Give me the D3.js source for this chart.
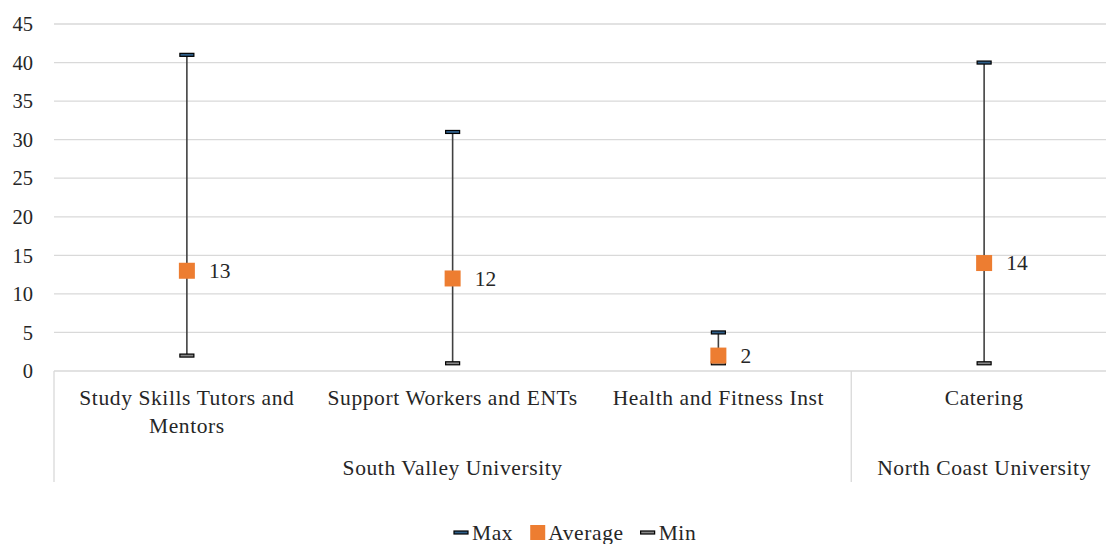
<!DOCTYPE html>
<html><head><meta charset="utf-8">
<script src="https://cdn.jsdelivr.net/npm/d3@7"></script>
<style>body{margin:0;background:#fff;}</style>
</head><body><svg id="c" width="1106" height="544"></svg>
<script>
const categories = ["Study Skills Tutors and Mentors","Support Workers and ENTs","Health and Fitness Inst","Catering"];
const groups = ["South Valley University","South Valley University","South Valley University","North Coast University"];
const maxVals = [41, 31, 5, 40];
const avgVals = [13, 12, 2, 14];
const minVals = [2, 1, 1, 1];
const yTicks = [0,5,10,15,20,25,30,35,40,45];

const FONT = "Liberation Serif";
const svg = d3.select("#c");
const x0 = 54, x1 = 1117, yTop = 24, yBot = 371;
const x = d3.scaleBand().domain(categories).range([x0, x1]);
const y = d3.scaleLinear().domain([0,45]).range([yBot, yTop]);
const fs = 21.5, fsT = 20.5, LS = "0.6px";

svg.append("g").selectAll("line").data(yTicks.filter(d=>d>0)).join("line")
  .attr("x1", x0).attr("x2", x1).attr("y1", d=>y(d)).attr("y2", d=>y(d))
  .attr("stroke","#d9d9d9").attr("stroke-width",1.3);
svg.append("line").attr("x1",x0).attr("x2",x1).attr("y1",yBot).attr("y2",yBot).attr("stroke","#d9d9d9").attr("stroke-width",1.3);

const ya = d3.axisLeft(y).tickValues(yTicks).tickSize(0).tickPadding(0);
const yg = svg.append("g").attr("transform",`translate(33,0)`).call(ya);
yg.attr("font-size", fsT).attr("font-family", null);
yg.select(".domain").remove();
yg.selectAll("text").attr("fill","#262626").attr("dy","0.33em");

const groupNames = [];
groups.forEach((g,i)=>{ if(!groupNames.length || groupNames[groupNames.length-1].name!==g) groupNames.push({name:g,start:i,end:i}); else groupNames[groupNames.length-1].end=i; });
const divX = [x0].concat(groupNames.map(g=>x(categories[g.end])+x.bandwidth()));
svg.append("g").selectAll("line").data(divX).join("line")
  .attr("x1",d=>d).attr("x2",d=>d).attr("y1",yBot).attr("y2",482)
  .attr("stroke","#d9d9d9").attr("stroke-width",1.3);

const catG = svg.append("g").attr("font-size",fs).attr("fill","#262626").attr("text-anchor","middle").style("letter-spacing",LS);
categories.forEach(c=>{
  const t = catG.append("text").style("font-family",FONT).attr("x", x(c)+x.bandwidth()/2).attr("y",405);
  const words = c.split(" ");
  let lines = [], cur = "";
  const tmp = svg.append("text").style("font-family",FONT).style("letter-spacing",LS).attr("font-size",fs).attr("visibility","hidden");
  words.forEach(w=>{ const test = cur? cur+" "+w : w; tmp.text(test); if(tmp.node().getComputedTextLength() > x.bandwidth()-2 && cur){ lines.push(cur); cur=w; } else cur=test; });
  lines.push(cur); tmp.remove();
  lines.forEach((l,i)=> t.append("tspan").attr("x", x(c)+x.bandwidth()/2).attr("dy", i?28:0).text(l));
});
svg.append("g").attr("font-size",fs).attr("fill","#262626").attr("text-anchor","middle").style("letter-spacing",LS)
  .selectAll("text").data(groupNames).join("text")
  .attr("x", g=> (x(categories[g.start]) + x(categories[g.end]) + x.bandwidth())/2)
  .attr("y",475).text(g=>g.name);

const cx = c => x(c)+x.bandwidth()/2;
svg.append("g").selectAll("line").data(categories).join("line")
  .attr("x1",cx).attr("x2",cx).attr("y1",(c,i)=>y(maxVals[i])).attr("y2",(c,i)=>y(minVals[i]))
  .attr("stroke","#404040").attr("stroke-width",1.6);

svg.append("g").selectAll("rect").data(categories).join("rect")
  .attr("x",c=>cx(c)-7).attr("y",(c,i)=>y(maxVals[i])-1.5).attr("width",14).attr("height",3)
  .attr("fill","#2f5f8a").attr("stroke","#000").attr("stroke-width",1.2);
svg.append("g").selectAll("rect").data(categories).join("rect")
  .attr("x",c=>cx(c)-7).attr("y",(c,i)=>y(minVals[i])-1.5).attr("width",14).attr("height",3)
  .attr("fill","#888").attr("stroke","#000").attr("stroke-width",1.2);
svg.append("g").selectAll("rect").data(categories).join("rect")
  .attr("x",c=>cx(c)-8).attr("y",(c,i)=>y(avgVals[i])-8).attr("width",16).attr("height",16)
  .attr("fill","#ED7D31");
svg.append("g").attr("font-size",fs).attr("fill","#262626").selectAll("text").data(categories).join("text")
  .attr("x",c=>cx(c)+22).attr("y",(c,i)=>y(avgVals[i])).attr("dy","0.33em").text((c,i)=>avgVals[i]);

const leg = svg.append("g").attr("font-size",fs).attr("fill","#262626").style("letter-spacing",LS);
const items = [{n:"Max",t:"max"},{n:"Average",t:"avg"},{n:"Min",t:"min"}];
let lx = 453;
items.forEach(it=>{
  if(it.t==="avg"){ leg.append("rect").attr("x",lx+1).attr("y",525).attr("width",15).attr("height",15).attr("fill","#ED7D31"); }
  else { leg.append("rect").attr("x",lx+1).attr("y",531).attr("width",14).attr("height",3).attr("fill",it.t==="max"?"#2f5f8a":"#888").attr("stroke","#000").attr("stroke-width",1.2); }
  const tx = leg.append("text").style("font-family",FONT).attr("x",lx+19).attr("y",540).text(it.n);
  lx = lx + 19 + tx.node().getComputedTextLength() + 16;
});
svg.selectAll("text").style("font-family", FONT);
</script></body></html>
